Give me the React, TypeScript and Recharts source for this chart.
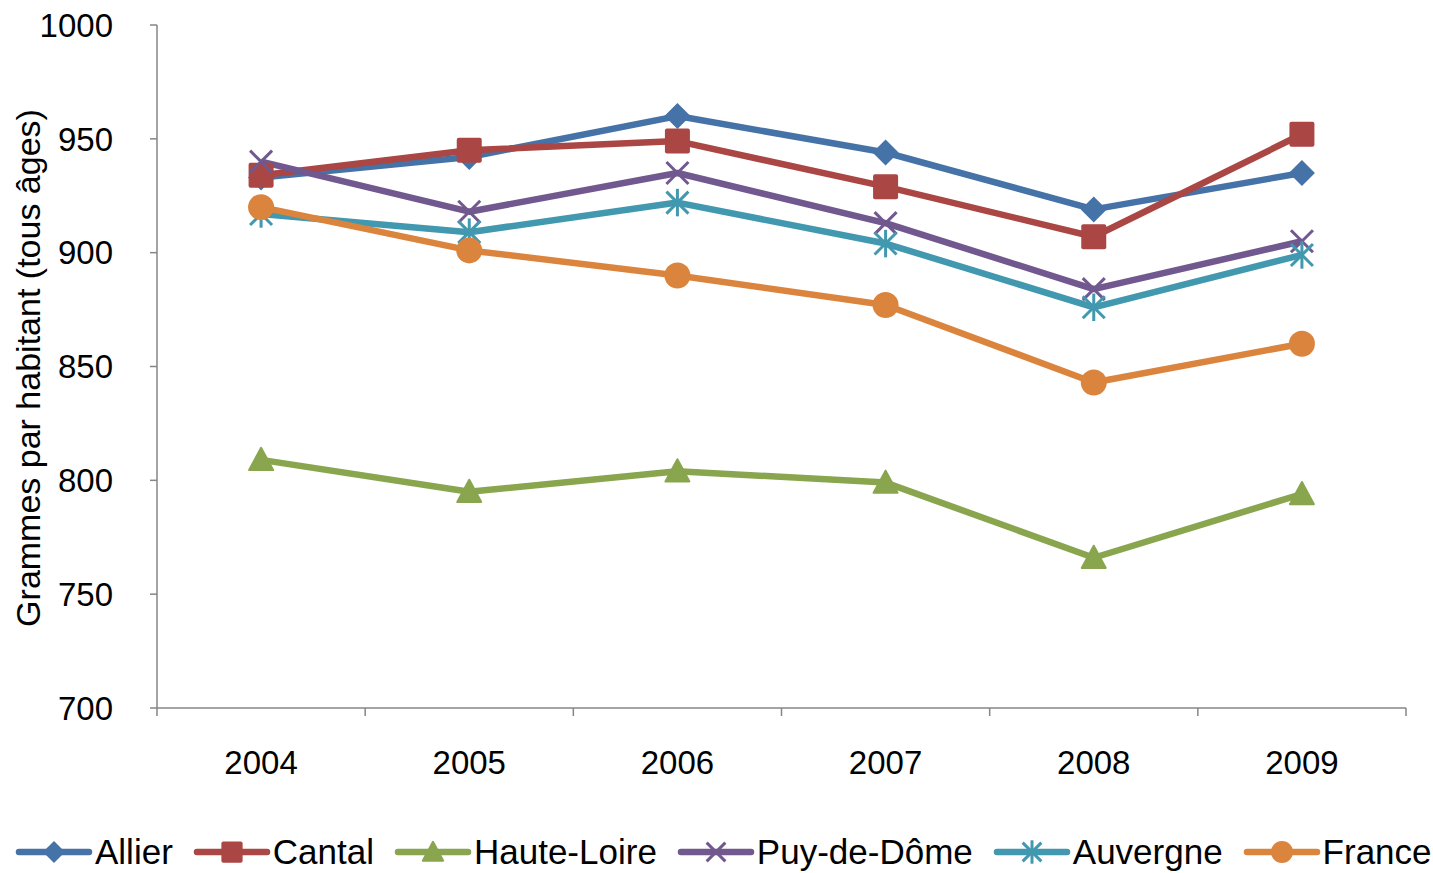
import React from 'react';
import { LineChart, Line, XAxis, YAxis } from 'recharts';

const years = ['2004', '2005', '2006', '2007', '2008', '2009'];
const allier = [933, 942, 960, 944, 919, 935];
const cantal = [934, 945, 949, 929, 907, 952];
const hauteLoire = [809, 795, 804, 799, 766, 794];
const puyDeDome = [940, 918, 935, 913, 884, 905];
const auvergne = [917, 909, 922, 904, 876, 899];
const france = [920, 901, 890, 877, 843, 860];
const yTicks = [700, 750, 800, 850, 900, 950, 1000];

const FONT = '"Liberation Sans", Arial, sans-serif';

type Shape = 'diamond' | 'square' | 'triangle' | 'x' | 'star' | 'circle';

const series: { key: string; name: string; color: string; shape: Shape; values: number[] }[] = [
  { key: 'allier', name: 'Allier', color: '#4572A7', shape: 'diamond', values: allier },
  { key: 'cantal', name: 'Cantal', color: '#AA4643', shape: 'square', values: cantal },
  { key: 'hauteLoire', name: 'Haute-Loire', color: '#89A54E', shape: 'triangle', values: hauteLoire },
  { key: 'puy', name: 'Puy-de-Dôme', color: '#71588F', shape: 'x', values: puyDeDome },
  { key: 'auvergne', name: 'Auvergne', color: '#4198AF', shape: 'star', values: auvergne },
  { key: 'france', name: 'France', color: '#DB843D', shape: 'circle', values: france },
];

const data = years.map((year, i) => {
  const row: Record<string, number | string> = { year, pos: i + 0.5 };
  series.forEach((s) => {
    row[s.key] = s.values[i];
  });
  return row;
});

function Marker({ cx, cy, shape, color, s = 1 }: { cx: number; cy: number; shape: Shape; color: string; s?: number }) {
  if (shape === 'diamond') {
    const r = 13 * s;
    return <polygon points={`${cx},${cy - r} ${cx + r},${cy} ${cx},${cy + r} ${cx - r},${cy}`} fill={color} />;
  }
  if (shape === 'square') {
    const h = 12.5 * s;
    return <rect x={cx - h} y={cy - h} width={2 * h} height={2 * h} rx={2} fill={color} />;
  }
  if (shape === 'triangle') {
    const h = 12 * s;
    return <polygon points={`${cx},${cy - h} ${cx + h},${cy + h * 0.85} ${cx - h},${cy + h * 0.85}`} fill={color} strokeLinejoin="round" stroke={color} strokeWidth={2} />;
  }
  if (shape === 'circle') {
    return <circle cx={cx} cy={cy} r={13 * s} fill={color} />;
  }
  const d = 11 * s;
  return (
    <g stroke={color} strokeWidth={3}>
      <line x1={cx - d} y1={cy - d} x2={cx + d} y2={cy + d} />
      <line x1={cx - d} y1={cy + d} x2={cx + d} y2={cy - d} />
      {shape === 'star' && <line x1={cx} y1={cy - d * 1.25} x2={cx} y2={cy + d * 1.25} />}
    </g>
  );
}

const makeDot = (shape: Shape, color: string) => (props: any) => (
  <Marker key={`dot-${props.index}`} cx={props.cx} cy={props.cy} shape={shape} color={color} />
);

function XTick(props: any) {
  const { x, y, payload } = props;
  const v = payload.value as number;
  if (Number.isInteger(v)) {
    return <line x1={x} y1={y} x2={x} y2={y + 8} stroke="#868686" strokeWidth={1.5} />;
  }
  return (
    <text x={x} y={y + 66} textAnchor="middle" fontSize={33} fontFamily={FONT} fill="#000">
      {years[Math.floor(v)]}
    </text>
  );
}

function YTitle() {
  return (
    <text x={40} y={368} transform="rotate(-90 40 368)" textAnchor="middle" fontSize={34} fontFamily={FONT} fill="#000">
      Grammes par habitant (tous âges)
    </text>
  );
}

export default function App() {
  return (
    <div style={{ position: 'absolute', left: 0, top: 0, width: 1433, height: 873, background: '#fff' }}>
      <LineChart width={1433} height={800} data={data} margin={{ top: 25, right: 27, bottom: 2, left: 0 }}>
        <XAxis
          dataKey="pos"
          type="number"
          domain={[0, 6]}
          ticks={[0, 0.5, 1, 1.5, 2, 2.5, 3, 3.5, 4, 4.5, 5, 5.5, 6]}
          interval={0}
          height={90}
          tickSize={0}
          tickMargin={0}
          tickLine={false}
          tick={<XTick />}
          axisLine={{ stroke: '#868686', strokeWidth: 1.5 }}
        />
        <YAxis
          domain={[700, 1000]}
          ticks={yTicks}
          interval={0}
          width={157}
          tickSize={7}
          tickMargin={37}
          tick={{ fontSize: 33, fontFamily: FONT, fill: '#000' }}
          tickLine={{ stroke: '#868686', strokeWidth: 1.5 }}
          axisLine={{ stroke: '#868686', strokeWidth: 1.5 }}
          label={{ content: () => <YTitle /> }}
        />
        {series.map((s) => (
          <Line
            key={s.key}
            dataKey={s.key}
            name={s.name}
            type="linear"
            stroke={s.color}
            strokeWidth={6.5}
            strokeLinejoin="round"
            dot={makeDot(s.shape, s.color)}
            activeDot={false}
            isAnimationActive={false}
          />
        ))}
      </LineChart>
      <div style={{ position: 'absolute', left: 15, top: 830, display: 'flex', alignItems: 'center', gap: 20 }}>
        {series.map((s) => (
          <div key={s.key} style={{ display: 'flex', alignItems: 'center' }}>
            <svg width={78} height={44}>
              <line x1={4} y1={22} x2={74} y2={22} stroke={s.color} strokeWidth={6.5} strokeLinecap="round" />
              <Marker cx={39} cy={22} shape={s.shape} color={s.color} s={0.85} />
            </svg>
            <span style={{ fontSize: 35, fontFamily: FONT, color: '#000', marginLeft: 2, whiteSpace: 'nowrap' }}>{s.name}</span>
          </div>
        ))}
      </div>
    </div>
  );
}
